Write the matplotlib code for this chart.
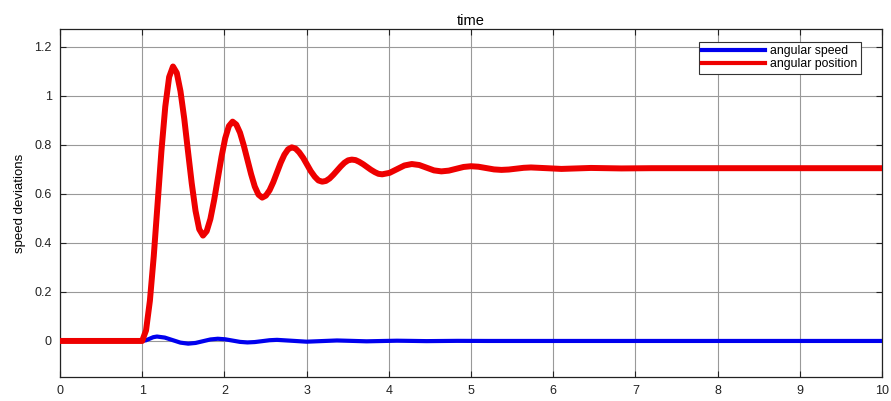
import matplotlib
matplotlib.use("Agg")
import matplotlib.pyplot as plt

plt.rcParams['font.family'] = ['Liberation Sans', 'DejaVu Sans']

# angular position (red)
t_pos = [0.0, 1.0, 1.047, 1.094, 1.141, 1.1875, 1.234, 1.281, 1.328, 1.375,
         1.421, 1.466, 1.512, 1.557, 1.603, 1.649, 1.694, 1.74,
         1.785, 1.83, 1.875, 1.92, 1.965, 2.01, 2.055, 2.10,
         2.145, 2.19, 2.235, 2.28, 2.325, 2.37, 2.415, 2.46,
         2.505, 2.55, 2.595, 2.64, 2.685, 2.73, 2.775, 2.82,
         2.866, 2.91, 2.959, 3.005, 3.051, 3.10, 3.144, 3.19,
         3.235, 3.28, 3.325, 3.37, 3.415, 3.46, 3.505, 3.55,
         3.596, 3.64, 3.689, 3.735, 3.781, 3.83, 3.874, 3.92,
         4.01, 4.10, 4.19, 4.28,
         4.37, 4.46, 4.55, 4.64,
         4.73, 4.82, 4.91, 5.0,
         5.09, 5.185, 5.28, 5.37,
         5.46, 5.55, 5.64, 5.73,
         5.92, 6.1, 6.46, 6.83, 7.2, 10.0]
y_pos = [0.0, 0.0, 0.043, 0.164, 0.346, 0.56, 0.774, 0.956, 1.077, 1.12,
         1.094, 1.019, 0.907, 0.775, 0.643, 0.531, 0.456, 0.43,
         0.448, 0.498, 0.574, 0.6625, 0.751, 0.827, 0.877, 0.895,
         0.883, 0.850, 0.799, 0.74, 0.681, 0.63, 0.597, 0.585,
         0.593, 0.615, 0.648, 0.6875, 0.727, 0.760, 0.782, 0.79,
         0.785, 0.77, 0.747, 0.72, 0.693, 0.67, 0.655, 0.65,
         0.653, 0.663, 0.678, 0.695, 0.712, 0.727, 0.737, 0.74,
         0.738, 0.731, 0.721, 0.71, 0.699, 0.689, 0.682, 0.68,
         0.686, 0.701, 0.716, 0.722,
         0.718, 0.707, 0.696, 0.692,
         0.695, 0.7025, 0.71, 0.713,
         0.711, 0.7055, 0.700, 0.698,
         0.6995, 0.703, 0.7065, 0.708,
         0.705, 0.702, 0.706, 0.704, 0.705, 0.705]

# angular speed (blue)
t_spd = [0.0, 1.0, 1.045, 1.09, 1.135, 1.18,
         1.275, 1.37, 1.465, 1.56,
         1.65, 1.74, 1.83, 1.92,
         2.01, 2.10, 2.19, 2.28,
         2.37, 2.46, 2.55, 2.64,
         2.82, 3.0, 3.185, 3.37, 3.55, 3.73, 3.915, 4.1,
         4.28, 4.46, 4.65, 4.83, 5.2, 10.0]
y_spd = [0.0, 0.0, 0.0026, 0.009, 0.0154, 0.018,
         0.0138, 0.0035, -0.0068, -0.011,
         -0.0081, -0.001, 0.0061, 0.009,
         0.0068, 0.0015, -0.0038, -0.006,
         -0.0045, -0.0008, 0.003, 0.0045,
         0.0008, -0.003, -0.0005, 0.002, 0.0003, -0.0015, -0.0002, 0.001,
         0.0002, -0.0007, -0.0001, 0.0004, 0.0, 0.0]

xticks = list(range(0, 11))
yticks = [0, 0.2, 0.4, 0.6, 0.8, 1, 1.2]
ytick_labels = ['0', '0.2', '0.4', '0.6', '0.8', '1', '1.2']

fig = plt.figure(figsize=(8.91, 4.01), dpi=100)
ax = fig.add_axes([0.0673, 0.0599, 0.9226, 0.8678])

ax.plot(t_spd, y_spd, color='#0000ee', lw=3.0, label='angular speed', zorder=3,
        solid_joinstyle='round')
ax.plot(t_pos, y_pos, color='#ee0000', lw=4.3, label='angular position', zorder=4,
        solid_joinstyle='round')

ax.set_xlim(0, 10)
ax.set_ylim(-0.147, 1.273)
ax.set_xticks(xticks)
ax.set_yticks(yticks)
ax.set_yticklabels(ytick_labels)
ax.tick_params(direction='in', top=True, right=True, labelsize=9,
               length=4, width=0.8, colors='#222222', pad=6)
ax.grid(True, color='#999999', lw=0.8)
for s in ax.spines.values():
    s.set_color('#222222')
    s.set_linewidth(0.9)

ax.set_title('time', fontsize=10.5, pad=3)
ax.set_ylabel('speed deviations', fontsize=9.5, labelpad=6)

leg = ax.legend(loc='upper right', bbox_to_anchor=(0.974, 0.962), fontsize=8.8,
                fancybox=False, framealpha=1, edgecolor='#333333',
                handlelength=5.2, handletextpad=0.4, borderpad=0.25,
                labelspacing=0.1, borderaxespad=0)
leg.get_frame().set_linewidth(0.8)
for line in leg.get_lines():
    line.set_linewidth(3.0)

fig.savefig('out.png', dpi=100)
